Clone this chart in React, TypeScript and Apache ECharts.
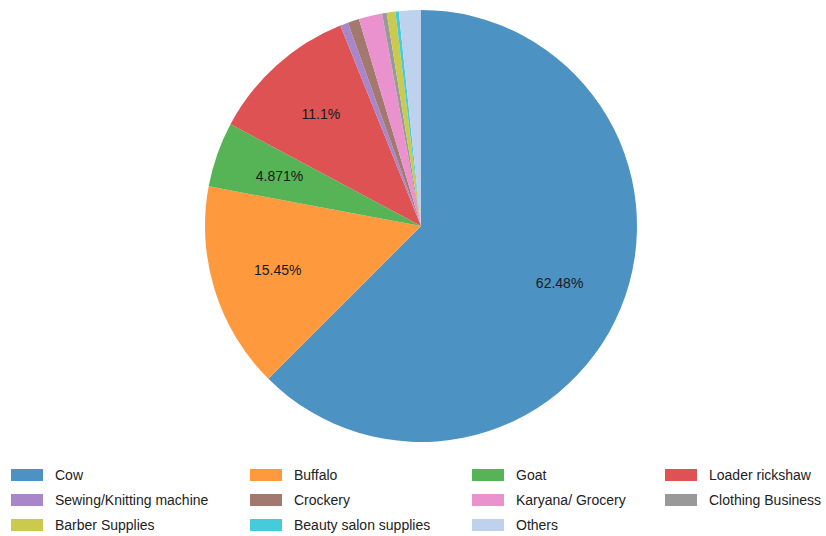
import React, { useEffect, useRef } from "react";
import * as echarts from "echarts";

const categories = [
  "Cow",
  "Buffalo",
  "Goat",
  "Loader rickshaw",
  "Sewing/Knitting machine",
  "Crockery",
  "Karyana/ Grocery",
  "Clothing Business",
  "Barber Supplies",
  "Beauty salon supplies",
  "Others",
];
const values = [62.48, 15.45, 4.871, 11.1, 0.6, 0.85, 1.75, 0.35, 0.65, 0.25, 1.64];
const labelled = ["Cow", "Buffalo", "Goat", "Loader rickshaw"];
const colors = [
  "#4c92c3",
  "#ff993e",
  "#56b356",
  "#de5253",
  "#a985ca",
  "#a3786f",
  "#e992ce",
  "#999999",
  "#c9ca4e",
  "#45cbd9",
  "#bed2ed",
];
const legendColumns = [
  ["Cow", "Sewing/Knitting machine", "Barber Supplies"],
  ["Buffalo", "Crockery", "Beauty salon supplies"],
  ["Goat", "Karyana/ Grocery", "Others"],
  ["Loader rickshaw", "Clothing Business"],
];
const legendLefts = [11, 250, 472, 665];

const FONT = "'Liberation Sans', Arial, Helvetica, sans-serif";

export default function App() {
  const ref = useRef<HTMLDivElement>(null);
  useEffect(() => {
    if (!ref.current) return;
    const chart = echarts.init(ref.current, null, { renderer: "svg" });
    const data = categories.map((name, i) => ({
      name,
      value: values[i],
      itemStyle: { color: colors[i] },
    }));
    const labelData = categories.map((name, i) => ({
      name,
      value: values[i],
      label: { show: labelled.includes(name) },
    }));
    chart.setOption({
      animation: false,
      color: colors,
      legend: legendColumns.map((col, i) => ({
        data: col,
        orient: "vertical",
        left: legendLefts[i],
        top: 468,
        padding: 0,
        itemWidth: 32,
        itemHeight: 12,
        itemGap: 11,
        icon: "rect",
        selectedMode: false,
        textStyle: {
          fontFamily: FONT,
          fontSize: 14,
          color: "#222",
          padding: [0, 0, 0, 7],
          lineHeight: 14,
        },
      })),
      series: [
        {
          type: "pie",
          center: [421, 226],
          radius: [0, 216],
          startAngle: 90,
          clockwise: true,
          avoidLabelOverlap: false,
          label: { show: false },
          labelLine: { show: false },
          itemStyle: { borderWidth: 0 },
          emphasis: { disabled: true },
          data,
        },
        {
          type: "pie",
          center: [421, 226],
          radius: [78, 216],
          startAngle: 90,
          clockwise: true,
          silent: true,
          avoidLabelOverlap: false,
          itemStyle: { color: "rgba(0,0,0,0)", borderWidth: 0 },
          label: {
            position: "inside",
            formatter: (p: any) => `${p.value}%`,
            fontFamily: FONT,
            fontSize: 14,
            color: "#1a1a1a",
          },
          labelLine: { show: false },
          emphasis: { disabled: true },
          data: labelData,
        },
      ],
    });
    return () => chart.dispose();
  }, []);
  return (
    <div
      ref={ref}
      style={{ position: "fixed", left: 0, top: 0, width: 826, height: 536, background: "#fff" }}
    />
  );
}
